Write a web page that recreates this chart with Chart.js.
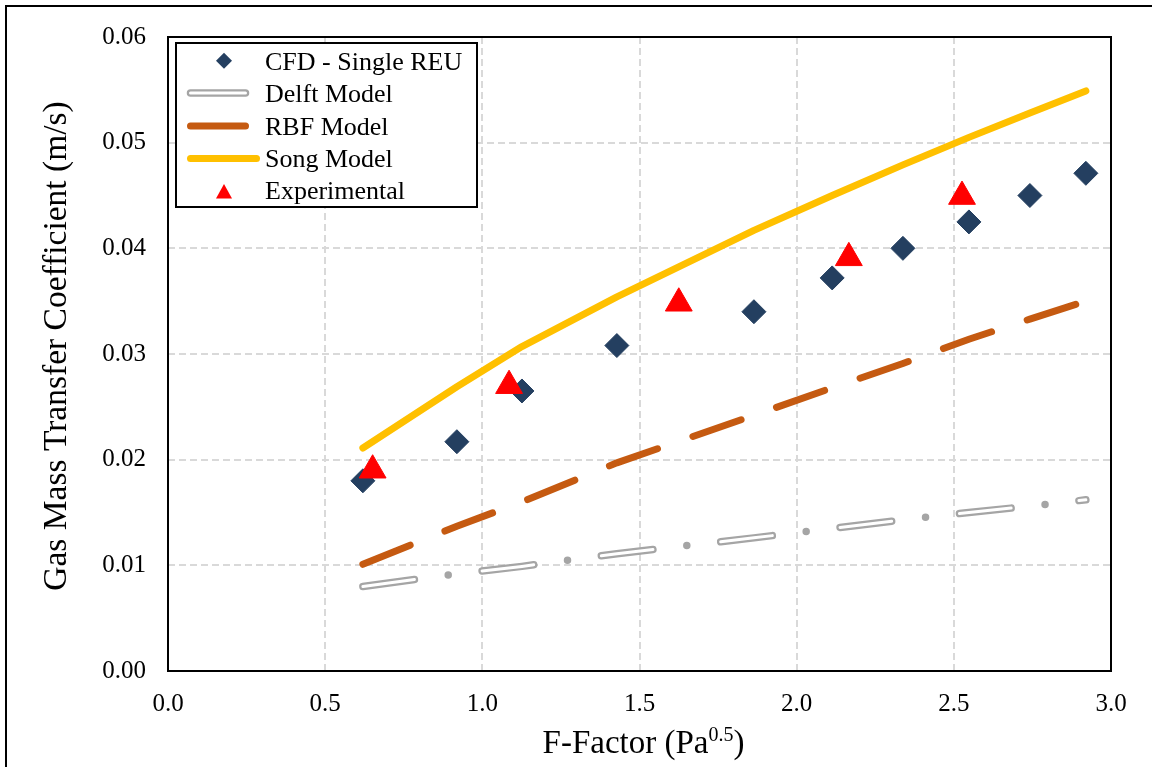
<!DOCTYPE html>
<html>
<head>
<meta charset="utf-8">
<script src="https://cdn.jsdelivr.net/npm/chart.js@4.4.1/dist/chart.umd.min.js"></script>
<style>
html,body{margin:0;padding:0;background:#fff;}
#wrap{width:1152px;height:767px;position:relative;}
</style>
</head>
<body>
<div id="wrap"><canvas id="c" width="1152" height="767"></canvas></div>
<script>
// ---- data ----
const seriesLabels = ['CFD - Single REU', 'Delft Model', 'RBF Model', 'Song Model', 'Experimental'];
const axisTitles = { x: ['F-Factor (Pa', '0.5', ')'], y: 'Gas Mass Transfer Coefficient (m/s)' };
const cfdX  = [0.620, 0.919, 1.126, 1.428, 1.864, 2.113, 2.338, 2.548, 2.742, 2.920];
const cfdY  = [0.0180, 0.0217, 0.0265, 0.0308, 0.0340, 0.0372, 0.0400, 0.0425, 0.0450, 0.0471];
const modelX = [0.620, 0.919, 1.126, 1.428, 1.864, 2.113, 2.338, 2.548, 2.742, 2.920];
const delftY = [0.0080, 0.0092, 0.0099, 0.0111, 0.0126, 0.0135, 0.0143, 0.0150, 0.0156, 0.0162];
const rbfY   = [0.0101, 0.0137, 0.0160, 0.0197, 0.0242, 0.0268, 0.0291, 0.0314, 0.0333, 0.0350];
const songY  = [0.0211, 0.0269, 0.0307, 0.0354, 0.0417, 0.0450, 0.0479, 0.0505, 0.0528, 0.0549];
const expX  = [0.651, 1.085, 1.625, 2.166, 2.526];
const expY  = [0.0190, 0.0270, 0.0348, 0.0391, 0.0449];
const xTicks = [0.0, 0.5, 1.0, 1.5, 2.0, 2.5, 3.0];
const yTicks = [0.00, 0.01, 0.02, 0.03, 0.04, 0.05, 0.06];

const pts = (xs, ys) => xs.map((x, i) => ({x: x, y: ys[i]}));
const SERIF = '"Liberation Serif", "Times New Roman", serif';

const C_CFD = '#243F60', C_DELFT = '#A5A5A5', C_RBF = '#C55A11', C_SONG = '#FFC000', C_EXP = '#FF0000';

const frame = {
  id: 'frame',
  afterDraw(chart) {
    const ctx = chart.ctx, a = chart.chartArea;
    ctx.save();
    // outer figure border (top + left)
    ctx.strokeStyle = '#000'; ctx.lineWidth = 2;
    ctx.beginPath(); ctx.moveTo(6, 767); ctx.lineTo(6, 6); ctx.lineTo(1152, 6); ctx.stroke();
    // plot border
    ctx.strokeRect(a.left, a.top, a.right - a.left, a.bottom - a.top);

    ctx.fillStyle = '#000';
    // y-axis title
    ctx.save();
    ctx.translate(57, 346);
    ctx.rotate(-Math.PI / 2);
    ctx.font = '33.5px ' + SERIF; ctx.textAlign = 'center'; ctx.textBaseline = 'middle';
    ctx.fillText(axisTitles.y, 0, 0);
    ctx.restore();

    // x-axis title with superscript
    ctx.textBaseline = 'alphabetic';
    const big = '33px ' + SERIF, sm = '20px ' + SERIF;
    const [t1, t2, t3] = axisTitles.x;
    ctx.font = big; const w1 = ctx.measureText(t1).width, w3 = ctx.measureText(t3).width;
    ctx.font = sm; const w2 = ctx.measureText(t2).width;
    const cx = 643.5;
    let x0 = cx - (w1 + w2 + w3) / 2;
    const by = 753;
    ctx.font = big; ctx.textAlign = 'left'; ctx.fillText(t1, x0, by);
    ctx.font = sm; ctx.fillText(t2, x0 + w1, by - 12);
    ctx.font = big; ctx.fillText(t3, x0 + w1 + w2, by);

    // legend
    const lx = 176, ly = 43, lw = 301, lh = 164;
    ctx.fillStyle = '#fff'; ctx.fillRect(lx, ly, lw, lh);
    ctx.strokeStyle = '#000'; ctx.lineWidth = 2; ctx.strokeRect(lx, ly, lw, lh);
    const rows = [60.7, 93, 126, 158.5, 192];
    const base = [69.5, 102, 134.5, 167, 199];
    // diamond
    ctx.fillStyle = C_CFD;
    ctx.beginPath(); ctx.moveTo(224, rows[0] - 8); ctx.lineTo(232, rows[0]); ctx.lineTo(224, rows[0] + 8); ctx.lineTo(216, rows[0]); ctx.closePath(); ctx.fill();
    // delft double line
    ctx.lineCap = 'round';
    ctx.strokeStyle = C_DELFT; ctx.lineWidth = 7.5;
    ctx.beginPath(); ctx.moveTo(190.5, rows[1]); ctx.lineTo(245.5, rows[1]); ctx.stroke();
    ctx.strokeStyle = '#fff'; ctx.lineWidth = 3;
    ctx.beginPath(); ctx.moveTo(190.5, rows[1]); ctx.lineTo(245.5, rows[1]); ctx.stroke();
    // rbf
    ctx.strokeStyle = C_RBF; ctx.lineWidth = 7;
    ctx.beginPath(); ctx.moveTo(190.5, rows[2]); ctx.lineTo(245.5, rows[2]); ctx.stroke();
    // song
    ctx.strokeStyle = C_SONG; ctx.lineWidth = 7;
    ctx.beginPath(); ctx.moveTo(190.5, rows[3]); ctx.lineTo(256.5, rows[3]); ctx.stroke();
    // triangle
    ctx.fillStyle = C_EXP;
    ctx.beginPath(); ctx.moveTo(224, 184); ctx.lineTo(232, 198.5); ctx.lineTo(216, 198.5); ctx.closePath(); ctx.fill();
    // labels
    ctx.fillStyle = '#000'; ctx.font = '26px ' + SERIF; ctx.textAlign = 'left';
    for (let i = 0; i < seriesLabels.length; i++) ctx.fillText(seriesLabels[i], 265, base[i]);
    ctx.restore();
  }
};

new Chart(document.getElementById('c'), {
  type: 'scatter',
  data: {
    datasets: [
      { label: seriesLabels[4], data: pts(expX, expY), order: 0, pointStyle: 'triangle',
        pointRadius: 15.5, pointHoverRadius: 15.5, backgroundColor: C_EXP, borderColor: C_EXP, borderWidth: 1 },
      { label: seriesLabels[0], data: pts(cfdX, cfdY), order: 1, pointStyle: 'rectRot',
        pointRadius: 12, pointHoverRadius: 12, backgroundColor: C_CFD, borderColor: C_CFD, borderWidth: 1 },
      { label: seriesLabels[3], data: pts(modelX, songY), order: 2, showLine: true, pointRadius: 0,
        borderColor: C_SONG, borderWidth: 7, borderCapStyle: 'round', borderJoinStyle: 'round', tension: 0, fill: false },
      { label: seriesLabels[2], data: pts(modelX, rbfY), order: 3, showLine: true, pointRadius: 0,
        borderColor: C_RBF, borderWidth: 7, borderCapStyle: 'round', borderDash: [51, 37.5], tension: 0, fill: false },
      { label: seriesLabels[1] + ' (inner)', data: pts(modelX, delftY), order: 4, showLine: true, pointRadius: 0,
        borderColor: '#ffffff', borderWidth: 3, borderCapStyle: 'round', borderDash: [52, 68.2], tension: 0, fill: false },
      { label: seriesLabels[1], data: pts(modelX, delftY), order: 5, showLine: true, pointRadius: 0,
        borderColor: C_DELFT, borderWidth: 7.5, borderCapStyle: 'round', borderDash: [52, 34.1, 0, 34.1], tension: 0, fill: false }
    ]
  },
  options: {
    responsive: false,
    animation: false,
    events: [],
    layout: { padding: { left: 0, top: 36, right: 41, bottom: 0 } },
    plugins: { legend: { display: false }, tooltip: { enabled: false } },
    scales: {
      x: {
        type: 'linear', min: 0, max: 3,
        afterFit: (s) => { s.height = 96; },
        afterBuildTicks: (s) => { s.ticks = xTicks.map(v => ({value: v})); },
        ticks: { padding: 18, color: '#000', font: { family: SERIF, size: 25 }, callback: (v) => Number(v).toFixed(1), maxRotation: 0 },
        grid: { color: '#D9D9D9', lineWidth: 2, drawTicks: false },
        border: { display: false, dash: [7, 4] }
      },
      y: {
        type: 'linear', min: 0, max: 0.06,
        afterFit: (s) => { s.width = 168; },
        afterBuildTicks: (s) => { s.ticks = yTicks.map(v => ({value: v})); },
        ticks: { padding: 22, color: '#000', font: { family: SERIF, size: 25 }, callback: (v) => Number(v).toFixed(2) },
        grid: { color: '#D9D9D9', lineWidth: 2, drawTicks: false },
        border: { display: false, dash: [7, 4] }
      }
    }
  },
  plugins: [frame]
});
</script>
</body>
</html>
